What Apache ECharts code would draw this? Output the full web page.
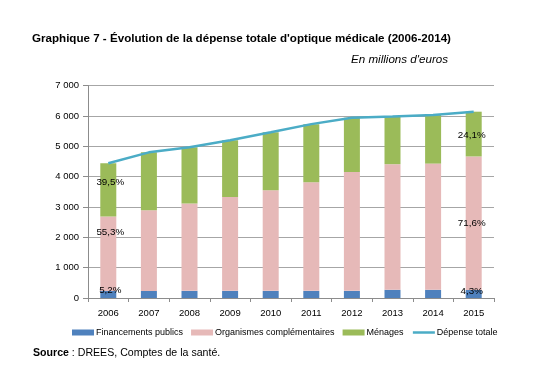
<!DOCTYPE html>
<html>
<head>
<meta charset="utf-8">
<script src="https://cdn.jsdelivr.net/npm/echarts@6/dist/echarts.min.js"></script>
<style>html,body{margin:0;padding:0;background:#fff}#c{width:541px;height:376px}</style>
</head>
<body>
<div id="c"></div>
<script>
const years = ['2006','2007','2008','2009','2010','2011','2012','2013','2014','2015'];
const publics = [230,230,235,235,235,235,235,270,270,265];
const organismes = [2460,2665,2880,3090,3320,3580,3920,4140,4160,4400];
const menages = [1750,1905,1855,1875,1905,1915,1785,1570,1600,1475];
const totale = [4440,4800,4970,5200,5460,5730,5940,5980,6030,6140];
const pctPublics = ['5,2%','','','','','','','','','4,3%'];
const pctOrganismes = ['55,3%','','','','','','','','','71,6%'];
const pctMenages = ['39,5%','','','','','','','','','24,1%'];
const yTicks = [0,1000,2000,3000,4000,5000,6000,7000];

const FONT = '"Liberation Sans", Arial, sans-serif';
function withLabels(vals, pcts, offFirst, offLast) {
  return vals.map((v, i) => {
    if (!pcts[i]) return v;
    return {
      value: v,
      label: {
        show: true, position: 'inside', formatter: pcts[i],
        color: '#000', fontSize: 9.8, fontFamily: FONT,
        offset: i === 0 ? offFirst : offLast
      }
    };
  });
}
const chart = echarts.init(document.getElementById('c'), null, {renderer: 'canvas'});
chart.setOption({
  animation: false,
  backgroundColor: '#fff',
  textStyle: {fontFamily: FONT},
  title: [
    {text: "Graphique 7 - Évolution de la dépense totale d'optique médicale (2006-2014)",
     left: 32, top: 33, padding: 0,
     textStyle: {fontSize: 11.6, fontWeight: 'bold', color: '#000', fontFamily: FONT}},
    {text: "En millions d'euros", right: 93, top: 54, padding: 0,
     textStyle: {fontSize: 11.6, fontStyle: 'italic', fontWeight: 'normal', color: '#000', fontFamily: FONT}},
    {text: '{b|Source} : DREES, Comptes de la santé.', left: 33, top: 348, padding: 0,
     textStyle: {fontSize: 10.6, fontWeight: 'normal', color: '#000', fontFamily: FONT,
       rich: {b: {fontWeight: 'bold', fontSize: 10.6, fontFamily: FONT, color: '#000'}}}}
  ],
  legend: {
    left: 72, top: 328, padding: 0, itemWidth: 22, itemHeight: 6, itemGap: 8,
    textStyle: {fontSize: 9, color: '#000', fontFamily: FONT, padding: [0, 0, 0, -3]},
    data: [
      {name: 'Financements publics', icon: 'rect'},
      {name: 'Organismes complémentaires', icon: 'rect'},
      {name: 'Ménages', icon: 'rect'},
      {name: 'Dépense totale', itemStyle: {opacity: 0}, lineStyle: {opacity: 1, width: 2.5}}
    ]
  },
  grid: {left: 88, right: 47, top: 85.6, bottom: 78},
  xAxis: {
    type: 'category', data: years, boundaryGap: true,
    axisLine: {lineStyle: {color: '#8c8c8c'}},
    axisTick: {show: true, length: 4, lineStyle: {color: '#8c8c8c'}},
    axisLabel: {fontSize: 9.5, color: '#000', margin: 10, fontFamily: FONT}
  },
  yAxis: {
    type: 'value', min: 0, max: 7000, interval: 1000,
    axisLine: {show: true, lineStyle: {color: '#8c8c8c'}},
    axisTick: {show: true, length: 5, lineStyle: {color: '#8c8c8c'}},
    splitLine: {lineStyle: {color: '#a6a6a6', width: 1}},
    axisLabel: {fontSize: 9.5, color: '#000', margin: 9, fontFamily: FONT,
      formatter: v => yTicks.includes(v) ? String(v).replace(/\B(?=(\d{3})+(?!\d))/g, ' ') : ''}
  },
  series: [
    {name: 'Financements publics', type: 'bar', stack: 't', barWidth: 16,
     itemStyle: {color: '#4f81bd'}, data: withLabels(publics, pctPublics, [2, -4], [-2, -3])},
    {name: 'Organismes complémentaires', type: 'bar', stack: 't',
     itemStyle: {color: '#e6b9b8'}, data: withLabels(organismes, pctOrganismes, [2, -21], [-2, 0])},
    {name: 'Ménages', type: 'bar', stack: 't',
     itemStyle: {color: '#9bbb59'}, data: withLabels(menages, pctMenages, [2, -8], [-2, 1])},
    {name: 'Dépense totale', type: 'line', symbol: 'none', z: 5,
     lineStyle: {color: '#4bacc6', width: 2.5}, itemStyle: {color: '#4bacc6'}, data: totale}
  ]
});
</script>
</body>
</html>
